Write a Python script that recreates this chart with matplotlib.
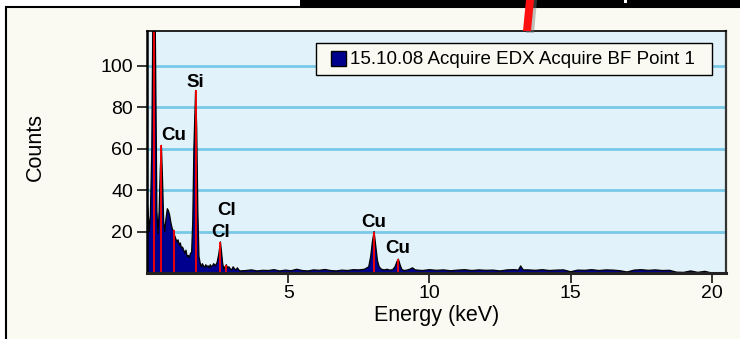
import numpy as np
import matplotlib
matplotlib.use("Agg")
import matplotlib.pyplot as plt
from matplotlib.patches import Rectangle, Polygon

plt.rcParams['font.family'] = ['Liberation Sans', 'DejaVu Sans']

# ---------------- data ----------------
energy_low = [0.00, 0.04, 0.08, 0.12, 0.17, 0.21, 0.26, 0.31, 0.35, 0.39,
              0.43, 0.47, 0.51, 0.55, 0.59, 0.63, 0.67, 0.72, 0.76, 0.80,
              0.85, 0.90, 0.94, 0.98, 1.02, 1.06, 1.10, 1.14, 1.18, 1.22,
              1.26, 1.30, 1.34, 1.38, 1.42, 1.46, 1.50, 1.54, 1.58, 1.62,
              1.66, 1.72, 1.76, 1.80, 1.84, 1.88, 1.92, 1.96, 2.00, 2.04,
              2.08, 2.12, 2.16, 2.20, 2.24, 2.28, 2.32, 2.36, 2.42, 2.48,
              2.54, 2.60, 2.64, 2.68, 2.72, 2.76, 2.81, 2.85, 2.90, 2.95,
              3.00, 3.05, 3.10, 3.15, 3.20, 3.25, 3.30]
counts_low = [34, 30, 20, 28, 60, 130, 170, 95, 30, 19,
              30, 50, 61.5, 45, 25, 20, 26, 31, 30, 28,
              24, 21, 20.5, 18, 16.5, 15, 16, 13.5, 14.5, 12,
              12.5, 11, 9.5, 11, 8, 8.5, 7.5, 9.5, 10, 25,
              60, 88, 70, 30, 8, 5, 3, 4.5, 3.5, 2.5,
              4, 3, 3.5, 2.5, 4, 3, 3.5, 4.5, 3.5, 5,
              9, 15, 10, 4.5, 2, 3, 4, 2.5, 3, 2,
              1.5, 3, 2, 1.5, 2.5, 1.5, 1]

energy_mid = [3.5, 3.7, 3.9, 4.1, 4.3, 4.5, 4.7, 4.9, 5.1, 5.3,
              5.5, 5.7, 5.9, 6.1, 6.3, 6.5, 6.7, 6.9, 7.1, 7.3,
              7.5, 7.7, 7.85, 7.92, 7.98, 8.04, 8.10, 8.16, 8.22, 8.30,
              8.40, 8.50, 8.60, 8.70, 8.78, 8.85, 8.90, 8.96, 9.02, 9.10,
              9.20, 9.30, 9.40]
counts_mid = [1.2, 1.5, 1.0, 1.3, 1.2, 1.6, 1.0, 1.4, 1.1, 1.8,
              1.2, 1.0, 1.5, 1.3, 1.7, 1.2, 1.0, 1.4, 1.2, 1.6,
              1.5, 1.8, 3, 8, 15, 20, 13, 6, 3, 1.8,
              1.5, 1.8, 1.4, 1.6, 3, 5.5, 6.7, 4, 1.8, 1.2,
              1.4, 1.8, 2.5]

energy_high = [9.5, 9.75, 10.0, 10.25, 10.5, 10.75, 11.0, 11.25, 11.5, 11.75,
               12.0, 12.25, 12.5, 12.75, 13.0, 13.15, 13.23, 13.32, 13.5, 13.75,
               14.0, 14.25, 14.5, 14.75, 15.0, 15.25, 15.5, 15.75, 16.0, 16.25,
               16.5, 16.75, 17.0, 17.25, 17.5, 17.75, 18.0, 18.25, 18.5, 18.75,
               19.0, 19.25, 19.5, 19.75, 20.0]
counts_high = [1.5, 1.2, 1.6, 1.3, 1.5, 1.1, 1.4, 1.6, 1.2, 1.5,
               1.3, 1.4, 1.0, 1.5, 1.6, 1.4, 3.4, 1.5, 1.5, 1.3,
               1.6, 1.2, 1.4, 1.5, 0.6, 1.4, 1.3, 1.6, 1.2, 1.5,
               1.4, 1.1, 0.5, 1.4, 1.6, 1.3, 1.5, 1.2, 1.3, 0.4,
               0.3, 1.0, 0.3, 0.8, 0.0]

marker_energy = [0.26, 0.51, 0.94, 1.72, 2.60, 2.81, 8.04, 8.90]
marker_height = [170, 61.5, 20.5, 88, 15, 4, 20, 6.7]

peak_labels = ["Cu", "Si", "Cl", "Cl", "Cu", "Cu"]
peak_label_x = [0.93, 1.71, 2.81, 2.59, 8.01, 8.89]
peak_label_y = [64.1, 89.6, 28.0, 17.3, 22.2, 9.6]

x_ticks = [5, 10, 15, 20]
y_ticks = [20, 40, 60, 80, 100]
legend_label = "15.10.08 Acquire EDX Acquire BF Point 1"

energy = np.array(energy_low + energy_mid + energy_high)
counts = np.array(counts_low + counts_mid + counts_high)

SPEC_COLOR = '#00008e'

# ---------------- figure ----------------
W, H = 740, 339
fig = plt.figure(figsize=(W / 100, H / 100), dpi=100)
fig.patch.set_facecolor('white')

def fx(px):
    return px / W

def fy(py):
    return 1 - py / H

# outer panel
fig.patches.append(Rectangle((fx(6), -0.05), 1.1, fy(7) + 0.05,
                             transform=fig.transFigure, facecolor='#fafaf3',
                             edgecolor='black', linewidth=1.5, zorder=-3))
# black band top right
fig.patches.append(Rectangle((fx(300), fy(7)), 1.0, 0.05,
                             transform=fig.transFigure, facecolor='black',
                             edgecolor='none', zorder=-2))
fig.patches.append(Rectangle((fx(624), fy(2.5)), 3 / W, 2.5 / H,
                             transform=fig.transFigure, facecolor='white',
                             edgecolor='none', zorder=-1))

ax = fig.add_axes([fx(147), fy(273), 579 / W, 242.3 / H])
ax.set_zorder(5)
ax.set_facecolor('#e1f2fa')
ax.set_xlim(0, 20.5)
ax.set_ylim(0, 116.8)

for yv in y_ticks:
    ax.axhline(yv, color='#78c9e8', lw=2.0, zorder=1)

ax.fill_between(energy, 0, counts, color=SPEC_COLOR, lw=0, zorder=2)
ax.plot(energy, counts, color='black', lw=0.9, zorder=3)
ax.vlines(marker_energy, 0, marker_height, color='#ff0000', lw=1.3, zorder=4)

for t, xv, yv in zip(peak_labels, peak_label_x, peak_label_y):
    ax.text(xv, yv, t, ha='center', va='baseline', fontsize=13.5,
            fontweight='bold', color='black', zorder=5)

ax.set_xticks(x_ticks)
ax.set_yticks(y_ticks)
ax.tick_params(axis='both', direction='out', length=7, width=1.1,
               labelsize=14, colors='black', pad=3)
ax.tick_params(axis='x', pad=2)
for side, lw, col in [('left', 1.8, 'black'), ('bottom', 2.2, '#222222'),
                      ('right', 1.6, '#333333'), ('top', 1.2, 'black')]:
    ax.spines[side].set_linewidth(lw)
    ax.spines[side].set_color(col)
    ax.spines[side].set_zorder(6)

# legend box (drawn in axes coordinates)
ax.add_patch(Rectangle((0.2919, 0.8172), 0.9758 - 0.2919, 0.9492 - 0.8172,
                       transform=ax.transAxes, facecolor='#fafaf3',
                       edgecolor='black', linewidth=1.0, zorder=7))
ax.add_patch(Rectangle((0.3178, 0.8543), 0.0259, 0.0619,
                       transform=ax.transAxes, facecolor=SPEC_COLOR,
                       edgecolor='black', linewidth=1.0, zorder=8))
ax.text(0.3506, 0.8832, legend_label, transform=ax.transAxes,
        ha='left', va='center', fontsize=13.5, color='black', zorder=8)

fig.text(fx(35), fy(147), 'Counts', rotation=90, ha='center', va='center',
         fontsize=15.5, color='black')
fig.text(fx(436.5), fy(316), 'Energy (keV)', ha='center', va='center',
         fontsize=15.5, color='black')

# red pointer with shadow
fig.patches.append(Polygon([(fx(529), fy(0)), (fx(537), fy(0)),
                            (fx(534), fy(33)), (fx(526), fy(33))],
                           closed=True, transform=fig.transFigure,
                           facecolor='#777777', alpha=0.45,
                           edgecolor='none', zorder=20))
fig.patches.append(Polygon([(fx(526), fy(0)), (fx(534), fy(0)),
                            (fx(531), fy(31)), (fx(523), fy(31))],
                           closed=True, transform=fig.transFigure,
                           facecolor='#ff1010', edgecolor='none', zorder=21))

fig.savefig('out.png', dpi=100, facecolor=fig.get_facecolor())
